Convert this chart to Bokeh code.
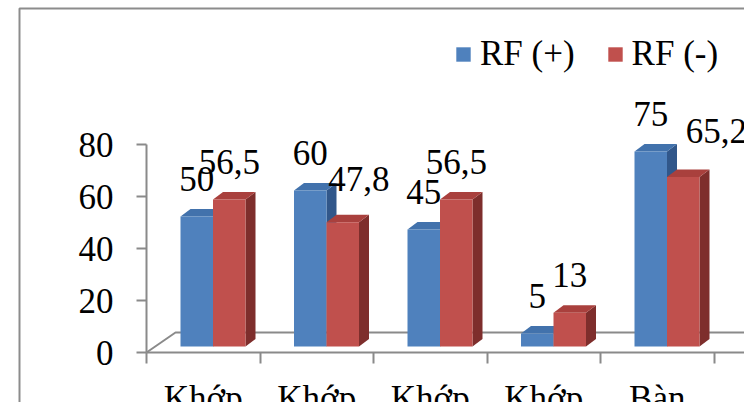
from bokeh.plotting import figure
from bokeh.models import (Range1d, LinearAxis, FixedTicker, Legend, LegendItem,
                          ColumnDataSource)
from bokeh.embed import file_html
from bokeh.resources import INLINE

# ---- data -------------------------------------------------------------
categories = ["Khớp", "Khớp", "Khớp", "Khớp", "Bàn"]
rf_pos = [50, 60, 45, 5, 75]          # RF (+)
rf_neg = [56.5, 47.8, 56.5, 13, 65.2]  # RF (-)
series_names = ["RF (+)", "RF (-)"]
y_ticks = [0, 20, 40, 60, 80]

# ---- layout / style ---------------------------------------------------
W, H = 744, 402
ORIGIN_X, ORIGIN_Y = 146, 352   # pixel where the two axes meet
CAT_PX = 113.5                  # pixel width of one category slot
VAL_PX = 2.6                    # pixels per value unit

FONT = "Liberation Serif"
FONT_SIZE = "35px"
AXIS_GRAY = "#8a8a8a"
FRONT = ["#4F81BD", "#C0504D"]
TOP = ["#4272AC", "#A9403D"]
SIDE = ["#31578A", "#7E2E2C"]


def ux(px):
    return px / CAT_PX


def uy(px):
    return px / VAL_PX


def X(px):
    return (px - ORIGIN_X) / CAT_PX


def Y(py):
    return (ORIGIN_Y - py) / VAL_PX


x_start, x_end = X(0), X(W)
y_start, y_end = Y(H), Y(0)

# oblique 3-D projection: bars stand a little behind the axis plane
shift_x, shift_y = ux(9.75), uy(6)      # front plane of the bars
depth_x, depth_y = ux(10), uy(7.5)      # thickness of a bar
floor_x, floor_y = ux(29), uy(20)       # depth of the floor
bar_w = ux(32.5)

p = figure(width=W, height=H, x_range=Range1d(x_start, x_end),
           y_range=Range1d(y_start, y_end), output_backend="svg",
           toolbar_location=None, x_axis_location=None, y_axis_location=None,
           min_border=0)
p.outline_line_color = None
p.background_fill_color = "white"
p.border_fill_color = "white"
p.grid.visible = False

# chart-area border (left and top edges)
p.line(x=[X(19), X(19), x_end], y=[y_start, Y(8), Y(8)],
       line_color="#8c8c8c", line_width=2)

# floor edges
p.line(x=[0, floor_x, x_end], y=[0, floor_y, floor_y],
       line_color=AXIS_GRAY, line_width=2)

n = len(categories)
centers = [i + 0.5 for i in range(n)]
front_renderers = []
label_x, label_y, label_txt, label_dx, label_dy = [], [], [], [], []
# nudges (px) for labels that would otherwise collide
LABEL_NUDGE = {(1, 1): (16, -5), (4, 1): (33, -8)}

for k, vals in enumerate([rf_pos, rf_neg]):
    xc = [c + shift_x + (k - 0.5) * bar_w for c in centers]
    tops = [v + shift_y for v in vals]
    left = [x - bar_w / 2 for x in xc]
    right = [x + bar_w / 2 for x in xc]

    side_xs = [[r, r + depth_x, r + depth_x, r] for r in right]
    side_ys = [[shift_y, shift_y + depth_y, t + depth_y, t] for t in tops]
    p.patches(xs=side_xs, ys=side_ys, fill_color=SIDE[k], line_color=None)

    top_xs = [[l, r, r + depth_x, l + depth_x] for l, r in zip(left, right)]
    top_ys = [[t, t, t + depth_y, t + depth_y] for t in tops]
    p.patches(xs=top_xs, ys=top_ys, fill_color=TOP[k], line_color=None)

    front = p.vbar(x=xc, width=bar_w, bottom=shift_y, top=tops,
                   fill_color=FRONT[k], line_color=None)
    front_renderers.append(front)

    for i, (x, t, v) in enumerate(zip(xc, tops, vals)):
        dx, dy = LABEL_NUDGE.get((i, k), (0, 0))
        label_x.append(x)
        label_y.append(t)
        label_txt.append(f"{v:g}".replace(".", ","))
        label_dx.append(dx)
        label_dy.append(-38 + dy)

labels = ColumnDataSource(dict(x=label_x, y=label_y, text=label_txt,
                               dx=label_dx, dy=label_dy))
p.text(x="x", y="y", text="text", x_offset="dx", y_offset="dy", source=labels,
       text_font={"value": FONT}, text_font_size=FONT_SIZE,
       text_align="center", text_baseline="alphabetic", text_color="black")

# value axis
yax = LinearAxis(fixed_location=0, ticker=FixedTicker(ticks=y_ticks),
                 bounds=(y_ticks[0], y_ticks[-1]))
yax.axis_line_color = AXIS_GRAY
yax.axis_line_width = 2
yax.major_tick_line_color = AXIS_GRAY
yax.major_tick_line_width = 2
yax.major_tick_out = 10
yax.major_tick_in = 0
yax.minor_tick_line_color = None
yax.major_label_standoff = 23
yax.major_label_text_font = FONT
yax.major_label_text_font_size = FONT_SIZE
yax.major_label_text_color = "black"
p.add_layout(yax, "left")

# category axis: line and ticks between categories
xax = LinearAxis(fixed_location=0, ticker=FixedTicker(ticks=list(range(n + 1))),
                 bounds=(0, x_end))
xax.major_label_overrides = {i: "" for i in range(n + 1)}
xax.axis_line_color = AXIS_GRAY
xax.axis_line_width = 2
xax.major_tick_line_color = AXIS_GRAY
xax.major_tick_line_width = 2
xax.major_tick_out = 11
xax.major_tick_in = 0
xax.minor_tick_line_color = None
p.add_layout(xax, "below")

# category names, centred in each slot
cax = LinearAxis(fixed_location=0, ticker=FixedTicker(ticks=centers))
cax.major_label_overrides = {c: name for c, name in zip(centers, categories)}
cax.axis_line_color = None
cax.major_tick_line_color = None
cax.minor_tick_line_color = None
cax.major_label_standoff = 20
cax.major_label_text_font = FONT
cax.major_label_text_font_size = FONT_SIZE
cax.major_label_text_color = "black"
p.add_layout(cax, "below")

legend = Legend(items=[LegendItem(label=name, renderers=[r])
                       for name, r in zip(series_names, front_renderers)],
                orientation="horizontal", location=(454, 328),
                glyph_width=18, glyph_height=18, label_standoff=8,
                spacing=31, padding=0, margin=0,
                border_line_color=None, background_fill_alpha=0,
                label_text_font=FONT, label_text_font_size=FONT_SIZE,
                label_text_color="black")
p.add_layout(legend)

open("out.html", "w").write(file_html(p, INLINE))
